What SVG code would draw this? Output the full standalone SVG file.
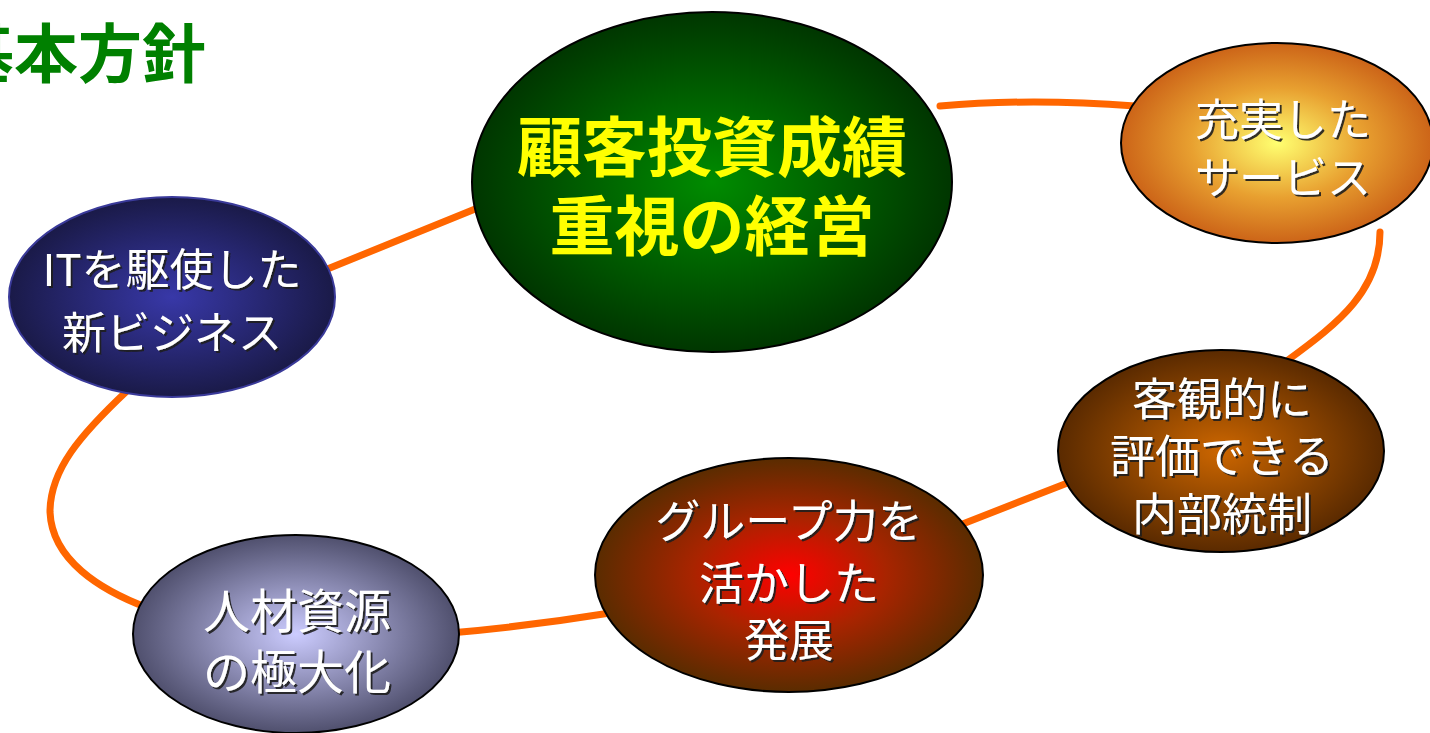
<svg xmlns="http://www.w3.org/2000/svg" width="1430" height="733" viewBox="0 0 1430 733">
<style>
.conn{fill:none;stroke:#ff6600;stroke-width:7;stroke-linecap:round}
.node{stroke:#000;stroke-width:2}
.lbl{font-family:"Noto Sans CJK JP","Liberation Sans",sans-serif;fill:#fff;text-anchor:middle;filter:url(#sh)}
.title{font-family:"Noto Sans CJK JP","Liberation Sans",sans-serif;font-weight:bold;fill:#008000;font-size:64px}
.main{font-family:"Noto Sans CJK JP","Liberation Sans",sans-serif;font-weight:bold;fill:#ffff00;text-anchor:middle;font-size:65px}
</style>
<defs>
<filter id="sh" x="-10%" y="-10%" width="130%" height="130%">
<feDropShadow dx="2" dy="2" stdDeviation="0.6" flood-color="#1a1a1a" flood-opacity="0.9"/>
</filter>
<radialGradient id="gGreen" cx="50%" cy="50%" r="50%">
<stop offset="0" stop-color="#008c00"/><stop offset="1" stop-color="#003600"/>
</radialGradient>
<radialGradient id="gNavy" cx="50%" cy="50%" r="50%">
<stop offset="0" stop-color="#3838a8"/><stop offset="1" stop-color="#1a1a48"/>
</radialGradient>
<radialGradient id="gOrange" cx="50%" cy="50%" r="50%">
<stop offset="0" stop-color="#ffff70"/><stop offset="0.55" stop-color="#e8a030"/><stop offset="1" stop-color="#cc6418"/>
</radialGradient>
<radialGradient id="gBrown" cx="50%" cy="50%" r="50%">
<stop offset="0" stop-color="#cc6600"/><stop offset="1" stop-color="#5a2a00"/>
</radialGradient>
<radialGradient id="gRed" cx="50%" cy="50%" r="50%">
<stop offset="0" stop-color="#ff0000"/><stop offset="0.5" stop-color="#a82400"/><stop offset="1" stop-color="#5a2c00"/>
</radialGradient>
<radialGradient id="gLav" cx="50%" cy="50%" r="50%">
<stop offset="0" stop-color="#ccccff"/><stop offset="1" stop-color="#50506e"/>
</radialGradient>
</defs>
<rect width="1430" height="733" fill="#fff"/>
<text class="title" x="-50" y="77">基本方針</text>
<g id="connectors">
<path class="conn" d="M 320 272 L 485 205"/>
<path class="conn" d="M 940 106 Q 1030 98 1135 106"/>
<path class="conn" d="M 1380 232 C 1380 290 1340 322 1288 360"/>
<path class="conn" d="M 960 525 L 1070 482"/>
<path class="conn" d="M 450 633 Q 530 626 610 613"/>
<path class="conn" d="M 128 390 C 80 435 50 470 50 512 C 52 560 100 590 148 608"/>
</g>
<g id="node-main">
<ellipse class="node" cx="712" cy="182" rx="240" ry="170" fill="url(#gGreen)"/>
<text class="main" x="712" y="171">顧客投資成績</text>
<text class="main" x="712" y="250">重視の経営</text>
</g>
<g id="node-it">
<ellipse cx="172" cy="297" rx="163" ry="100" fill="url(#gNavy)" stroke="#3a3a9a" stroke-width="2"/>
<text class="lbl" x="172" y="286" font-size="44">ITを駆使した</text>
<text class="lbl" x="172" y="349" font-size="44">新ビジネス</text>
</g>
<g id="node-service">
<ellipse class="node" cx="1277" cy="143" rx="156" ry="100" fill="url(#gOrange)"/>
<text class="lbl" x="1283" y="136" font-size="44">充実した</text>
<text class="lbl" x="1283" y="194" font-size="44">サービス</text>
</g>
<g id="node-control">
<ellipse class="node" cx="1221" cy="451" rx="163" ry="101" fill="url(#gBrown)"/>
<text class="lbl" x="1222" y="416" font-size="45">客観的に</text>
<text class="lbl" x="1222" y="473" font-size="45">評価できる</text>
<text class="lbl" x="1222" y="531" font-size="45">内部統制</text>
</g>
<g id="node-group">
<ellipse class="node" cx="789" cy="575" rx="194" ry="117" fill="url(#gRed)"/>
<text class="lbl" x="789" y="538" font-size="45">グループ力を</text>
<text class="lbl" x="789" y="600" font-size="45">活かした</text>
<text class="lbl" x="789" y="657" font-size="45">発展</text>
</g>
<g id="node-hr">
<ellipse class="node" cx="296" cy="634" rx="163" ry="99" fill="url(#gLav)"/>
<text class="lbl" x="297" y="628" font-size="47">人材資源</text>
<text class="lbl" x="297" y="689" font-size="47">の極大化</text>
</g>
</svg>
